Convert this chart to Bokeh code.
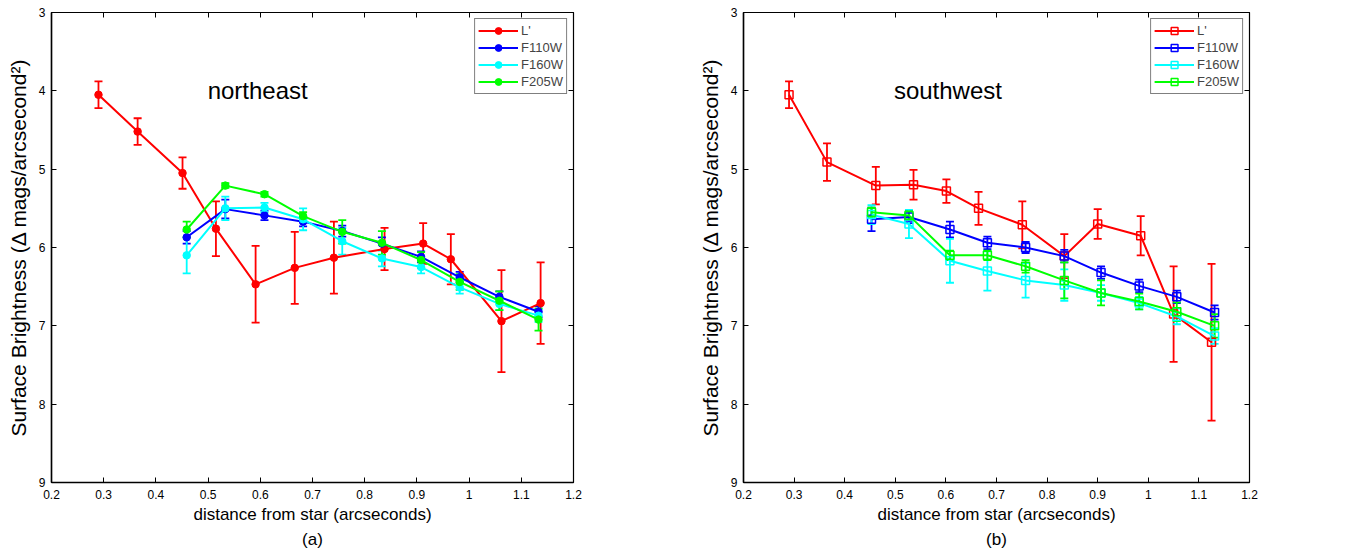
from bokeh.plotting import figure
from bokeh.models import (ColumnDataSource, Whisker, TeeHead, Range1d, FixedTicker,
                          PrintfTickFormatter, LinearAxis, Label, Title, Legend, LegendItem)
from bokeh.layouts import row
from bokeh.embed import file_html
from bokeh.resources import INLINE

# ---------------- data ----------------
series_names = ["L'", "F110W", "F160W", "F205W"]
series_colors = ["#FF0000", "#0000FF", "#00FFFF", "#00FF00"]

x_ticks = [0.2, 0.3, 0.4, 0.5, 0.6, 0.7, 0.8, 0.9, 1.0, 1.1, 1.2]
y_ticks = [3, 4, 5, 6, 7, 8, 9]

# northeast
ne_x_L = [0.290, 0.365, 0.451, 0.515, 0.591, 0.666, 0.741, 0.838, 0.912, 0.965, 1.062, 1.137]
ne_y_L = [4.05, 4.52, 5.05, 5.76, 6.47, 6.26, 6.13, 6.02, 5.95, 6.15, 6.94, 6.71]
ne_e_L = [0.17, 0.17, 0.20, 0.35, 0.49, 0.46, 0.46, 0.27, 0.26, 0.32, 0.65, 0.52]

ne_x_hst = [0.459, 0.533, 0.608, 0.682, 0.757, 0.833, 0.908, 0.982, 1.058, 1.133]
ne_y_F110 = [5.87, 5.51, 5.59, 5.67, 5.79, 5.95, 6.12, 6.38, 6.63, 6.82]
ne_e_F110 = [0.08, 0.12, 0.06, 0.06, 0.07, 0.08, 0.07, 0.07, 0.07, 0.07]
ne_y_F160 = [6.10, 5.50, 5.49, 5.64, 5.92, 6.14, 6.25, 6.51, 6.72, 6.87]
ne_e_F160 = [0.23, 0.15, 0.06, 0.14, 0.17, 0.10, 0.08, 0.08, 0.08, 0.08]
ne_y_F205 = [5.77, 5.21, 5.32, 5.60, 5.80, 5.94, 6.16, 6.44, 6.68, 6.92]
ne_e_F205 = [0.10, 0.03, 0.03, 0.05, 0.15, 0.15, 0.10, 0.10, 0.12, 0.14]

# southwest
sw_x_L = [0.290, 0.365, 0.4615, 0.536, 0.601, 0.6645, 0.751, 0.834, 0.900, 0.985, 1.050, 1.125]
sw_y_L = [4.05, 4.91, 5.21, 5.20, 5.28, 5.50, 5.71, 6.11, 5.70, 5.85, 6.85, 7.21]
sw_e_L = [0.17, 0.24, 0.24, 0.19, 0.15, 0.21, 0.30, 0.28, 0.19, 0.25, 0.61, 1.00]

sw_x_hst = [0.453, 0.527, 0.608, 0.682, 0.7575, 0.834, 0.9066, 0.982, 1.0563, 1.131]
sw_y_F110 = [5.64, 5.61, 5.77, 5.94, 6.00, 6.11, 6.32, 6.49, 6.63, 6.83]
sw_e_F110 = [0.15, 0.08, 0.10, 0.08, 0.07, 0.08, 0.08, 0.08, 0.08, 0.09]
sw_y_F160 = [5.58, 5.70, 6.17, 6.30, 6.42, 6.48, 6.58, 6.71, 6.88, 7.13]
sw_e_F160 = [0.12, 0.18, 0.28, 0.25, 0.22, 0.20, 0.10, 0.08, 0.10, 0.10]
sw_y_F205 = [5.55, 5.59, 6.10, 6.10, 6.24, 6.42, 6.58, 6.69, 6.82, 7.00]
sw_e_F205 = [0.06, 0.05, 0.06, 0.06, 0.08, 0.23, 0.16, 0.10, 0.12, 0.15]

FONT = "Liberation Sans"


def make_panel(title_text, region_text, region_x, region_y, series, marker,
               frame_w, border_left, border_right):
    p = figure(frame_width=frame_w, frame_height=470, output_backend="svg",
               toolbar_location=None,
               x_range=Range1d(0.2, 1.2), y_range=Range1d(9, 3),
               min_border_left=border_left, min_border_right=border_right,
               min_border_top=12, min_border_bottom=10)
    p.xgrid.visible = False
    p.ygrid.visible = False
    p.outline_line_color = "black"
    p.outline_line_width = 1.2
    p.background_fill_color = "white"
    p.border_fill_color = "white"

    for ax, ticks in ((p.xaxis[0], x_ticks), (p.yaxis[0], y_ticks)):
        ax.ticker = FixedTicker(ticks=ticks)
        ax.formatter = PrintfTickFormatter(format="%g")
        ax.major_tick_in = 5
        ax.major_tick_out = 0
        ax.minor_tick_line_color = None
        ax.major_tick_line_color = "black"
        ax.axis_line_color = "black"
        ax.axis_line_width = 1.5
        ax.major_label_text_font = FONT
        ax.major_label_text_font_size = "12px"
        ax.major_label_text_color = "black"
        ax.axis_label_text_font = FONT
        ax.axis_label_text_font_style = "normal"
        ax.axis_label_text_color = "black"

    p.xaxis[0].axis_label = "distance from star (arcseconds)"
    p.xaxis[0].axis_label_text_font_size = "17px"
    p.xaxis[0].major_label_standoff = 7
    p.xaxis[0].axis_label_standoff = 3
    p.yaxis[0].axis_label = "Surface Brightness (\u0394 mags/arcsecond\u00b2)"
    p.yaxis[0].axis_label_text_font_size = "21px"
    p.yaxis[0].major_label_standoff = 6
    p.yaxis[0].axis_label_standoff = 6

    # top / right tick-only axes (labels not painted)
    for loc, ticks in (("above", x_ticks), ("right", y_ticks)):
        ax = LinearAxis(ticker=FixedTicker(ticks=ticks), major_tick_in=5, major_tick_out=0,
                        minor_tick_line_color=None, axis_line_color=None,
                        major_label_text_font_size="1px", major_label_text_color=None,
                        major_label_text_alpha=0, major_label_standoff=0,
                        major_tick_line_color="black")
        p.add_layout(ax, loc)

    items = []
    for name, color, xs, ys, es in series:
        lower = [y - e for y, e in zip(ys, es)]
        upper = [y + e for y, e in zip(ys, es)]
        src = ColumnDataSource(dict(x=xs, y=ys, lower=lower, upper=upper))
        w = Whisker(base="x", lower="lower", upper="upper", source=src,
                    line_color=color, line_width=1.8,
                    upper_head=TeeHead(size=8, line_color=color, line_width=1.8),
                    lower_head=TeeHead(size=8, line_color=color, line_width=1.8))
        p.add_layout(w)
        r1 = p.line("x", "y", source=src, line_color=color, line_width=2)
        if marker == "circle":
            r2 = p.scatter("x", "y", source=src, marker="circle", size=7.5,
                           fill_color=color, line_color=color)
        else:
            r2 = p.scatter("x", "y", source=src, marker="square", size=8,
                           fill_color=None, line_color=color, line_width=1.5)
        items.append(LegendItem(label=name, renderers=[r1, r2]))

    legend = Legend(items=items, location="top_right", margin=6, padding=3,
                    spacing=0, glyph_width=40, glyph_height=17, label_height=17,
                    label_standoff=3, label_text_font=FONT, label_text_font_size="13px",
                    border_line_color="black", border_line_width=1.5,
                    background_fill_color="white", background_fill_alpha=1.0)
    p.add_layout(legend)

    p.add_layout(Label(x=region_x, y=region_y, text=region_text, text_align="center",
                       text_baseline="middle", text_font=FONT, text_font_size="24px",
                       text_color="black"))

    t = Title(text=title_text, align="center", text_font=FONT, text_font_size="17px",
              text_font_style="normal", text_color="black", standoff=3)
    p.add_layout(t, "below")
    return p


ne_series = [
    (series_names[0], series_colors[0], ne_x_L, ne_y_L, ne_e_L),
    (series_names[1], series_colors[1], ne_x_hst, ne_y_F110, ne_e_F110),
    (series_names[2], series_colors[2], ne_x_hst, ne_y_F160, ne_e_F160),
    (series_names[3], series_colors[3], ne_x_hst, ne_y_F205, ne_e_F205),
]
sw_series = [
    (series_names[0], series_colors[0], sw_x_L, sw_y_L, sw_e_L),
    (series_names[1], series_colors[1], sw_x_hst, sw_y_F110, sw_e_F110),
    (series_names[2], series_colors[2], sw_x_hst, sw_y_F160, sw_e_F160),
    (series_names[3], series_colors[3], sw_x_hst, sw_y_F205, sw_e_F205),
]

p1 = make_panel("(a)", "northeast", 0.595, 4.0, ne_series, "circle", 522, 51, 122)
p2 = make_panel("(b)", "southwest", 0.604, 4.0, sw_series, "square", 506, 45, 118)

layout = row(p1, p2)
open("out.html", "w").write(file_html(layout, INLINE))
